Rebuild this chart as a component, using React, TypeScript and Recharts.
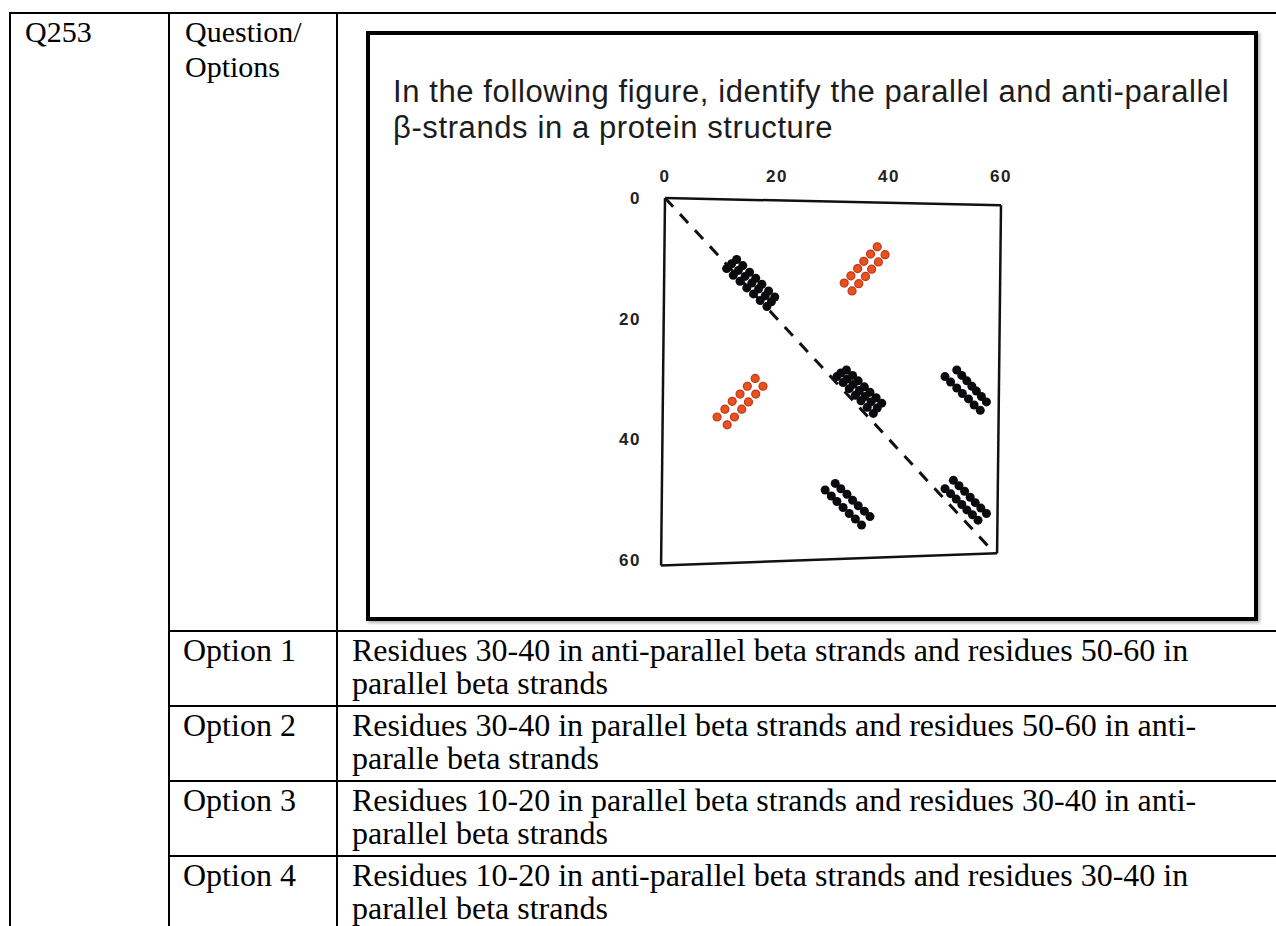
import React from 'react';
import { ScatterChart, Scatter, XAxis, YAxis, ReferenceLine } from 'recharts';

// residue ticks on both axes
const residueTicks = [0, 20, 40, 60];

// contact points [residue i, residue j]
const diagonalContacts: [number, number][] = [
  [12.8, 10.2], [13.9, 11.2], [15.1, 12.3], [16.2, 13.3], [17.3, 14.3], [18.5, 15.4], [19.6, 16.4],
  [11.9, 10.9], [13.1, 12.0], [14.3, 13.0], [15.5, 14.1], [16.7, 15.1], [17.9, 16.2], [19.0, 17.2],
  [11.0, 11.7], [12.2, 12.8], [13.4, 13.8], [14.6, 14.9], [15.8, 15.9], [17.0, 17.0], [18.2, 18.0],
  [32.4, 28.5], [33.5, 29.4], [34.5, 30.3], [35.6, 31.3], [36.6, 32.2], [37.7, 33.1], [38.7, 34.0],
  [31.4, 29.0], [32.5, 30.0], [33.6, 30.9], [34.7, 31.9], [35.7, 32.9], [36.8, 33.8], [37.9, 34.8],
  [30.7, 29.6], [31.8, 30.6], [32.9, 31.6], [34.0, 32.7], [35.0, 33.6], [36.1, 34.7], [37.2, 35.7],
  [51.5, 46.8], [52.5, 47.7], [53.5, 48.6], [54.5, 49.6], [55.4, 50.5], [56.4, 51.4], [57.4, 52.3],
  [50.0, 48.2], [51.0, 49.0], [52.0, 49.9], [53.0, 50.8], [53.9, 51.7], [54.9, 52.5], [55.9, 53.4],
];

const parallelContacts: [number, number][] = [
  [52.1, 28.5], [53.0, 29.4], [53.9, 30.3], [54.8, 31.2], [55.6, 32.0], [56.5, 32.9], [57.4, 33.8],
  [50.0, 29.6], [51.0, 30.5], [52.1, 31.5], [53.1, 32.4], [54.2, 33.3], [55.2, 34.3], [56.3, 35.2],
  [30.4, 47.3], [31.4, 48.2], [32.5, 49.1], [33.5, 50.1], [34.5, 51.0], [35.6, 51.9], [36.6, 52.8],
  [28.6, 48.4], [29.7, 49.4], [30.7, 50.3], [31.8, 51.3], [32.9, 52.3], [34.0, 53.2], [35.1, 54.2],
];

const antiParallelContacts: [number, number][] = [
  [32.0, 14.1], [33.2, 12.9], [34.4, 11.7], [35.5, 10.5], [36.7, 9.3], [37.9, 8.1],
  [33.4, 15.4], [34.6, 14.2], [35.8, 13.0], [36.9, 11.8], [38.1, 10.6], [39.3, 9.4],
  [9.3, 36.3], [10.7, 35.0], [12.0, 33.7], [13.4, 32.5], [14.7, 31.2], [16.1, 29.9],
  [11.1, 37.6], [12.4, 36.3], [13.7, 35.0], [14.9, 33.8], [16.2, 32.5], [17.5, 31.2],
];

// the hand drawn frame is a bit skewed
const frameCorners: [number, number][] = [[0, 0], [60, 1.2], [59.3, 58.9], [-0.7, 60.9]];
const diagonalEnd = 58;

const questionLines = [
  'In the following figure, identify the parallel and anti-parallel',
  'β-strands in a protein structure',
];
const optionLabels = ['Option 1', 'Option 2', 'Option 3', 'Option 4'];
const optionTexts = [
  ['Residues 30-40 in anti-parallel beta strands and residues 50-60 in', 'parallel beta strands'],
  ['Residues 30-40 in parallel beta strands and residues 50-60 in anti-', 'paralle beta strands'],
  ['Residues 10-20 in parallel beta strands and residues 30-40 in anti-', 'parallel beta strands'],
  ['Residues 10-20 in anti-parallel beta strands and residues 30-40 in', 'parallel beta strands'],
];

const toPoints = (arr: [number, number][]) => arr.map(([x, y]) => ({ x, y }));

const serif = '"Liberation Serif", "Times New Roman", serif';
const sans = '"Liberation Sans", Arial, sans-serif';

const blackDot = (p: any) => <circle cx={p.cx} cy={p.cy} r={4.5} fill="#0b0b0e" />;
const redDot = (p: any) => (
  <circle cx={p.cx} cy={p.cy} r={4} fill="#e8521f" stroke="#c2361a" strokeWidth={1.2} />
);

const tickStyle = { fill: '#222', fontSize: 17, fontWeight: 700, fontFamily: sans, letterSpacing: 1.5 };

const ContactMap = () => (
  <ScatterChart width={430} height={440} margin={{ top: 18, right: 29, bottom: 30, left: 25 }}>
    <XAxis
      type="number"
      dataKey="x"
      orientation="top"
      height={30}
      domain={[0, 60]}
      ticks={residueTicks}
      axisLine={false}
      tickLine={false}
      tickSize={0}
      tickMargin={16}
      tick={tickStyle}
    />
    <YAxis
      type="number"
      dataKey="y"
      reversed
      width={40}
      domain={[0, 60]}
      ticks={residueTicks}
      axisLine={false}
      tickLine={false}
      tickSize={0}
      tickMargin={24}
      tick={tickStyle}
    />
    {frameCorners.map((c, i) => {
      const n = frameCorners[(i + 1) % frameCorners.length];
      return (
        <ReferenceLine
          key={i}
          segment={[{ x: c[0], y: c[1] }, { x: n[0], y: n[1] }]}
          stroke="#111"
          strokeWidth={2.5}
          ifOverflow="visible"
        />
      );
    })}
    <ReferenceLine
      segment={[{ x: 0, y: 0 }, { x: diagonalEnd, y: diagonalEnd }]}
      stroke="#111"
      strokeWidth={3}
      strokeDasharray="12 10"
      ifOverflow="visible"
    />
    <Scatter data={toPoints(diagonalContacts)} shape={blackDot} isAnimationActive={false} />
    <Scatter data={toPoints(parallelContacts)} shape={blackDot} isAnimationActive={false} />
    <Scatter data={toPoints(antiParallelContacts)} shape={redDot} isAnimationActive={false} />
  </ScatterChart>
);

export default function App() {
  const rowTop = (i: number) => 631 + 75 * i;
  return (
    <div style={{ position: 'absolute', left: 0, top: 0, width: 1276, height: 926, background: '#fff', overflow: 'hidden' }}>
      <svg width={1276} height={926} style={{ position: 'absolute', left: 0, top: 0 }}>
        <g stroke="#000" strokeWidth={2}>
          <line x1={10} y1={13} x2={1276} y2={13} />
          <line x1={10} y1={12} x2={10} y2={926} />
          <line x1={169} y1={12} x2={169} y2={926} />
          <line x1={337} y1={12} x2={337} y2={926} />
          {optionLabels.map((_, i) => (
            <line key={i} x1={169} y1={rowTop(i)} x2={1276} y2={rowTop(i)} />
          ))}
        </g>
        <g fontFamily={serif} fontSize={30} fill="#000">
          <text x={25} y={42}>Q253</text>
          <text x={185} y={42}>Question/</text>
          <text x={185} y={77}>Options</text>
        </g>
        <g fontFamily={serif} fontSize={32} fill="#000">
          {optionLabels.map((l, i) => (
            <text key={l} x={183} y={rowTop(i) + 30}>{l}</text>
          ))}
          {optionTexts.map((lines, i) =>
            lines.map((t, j) => (
              <text key={i + '-' + j} x={352} y={rowTop(i) + 30 + 33 * j}>{t}</text>
            ))
          )}
        </g>
      </svg>
      <div
        style={{
          position: 'absolute', left: 366, top: 31, width: 892, height: 590, boxSizing: 'border-box',
          border: '4px solid #000', boxShadow: '2px 2px 3px rgba(0,0,0,0.3)',
        }}
      />
      <svg width={1276} height={160} style={{ position: 'absolute', left: 0, top: 0 }}>
        <g fontFamily={sans} fontSize={31} fill="#1c1c1c" letterSpacing={0.6}>
          {questionLines.map((t, i) => (
            <text key={i} x={393} y={102 + 36 * i}>{t}</text>
          ))}
        </g>
      </svg>
      <div style={{ position: 'absolute', left: 600, top: 150 }}>
        <ContactMap />
      </div>
    </div>
  );
}
